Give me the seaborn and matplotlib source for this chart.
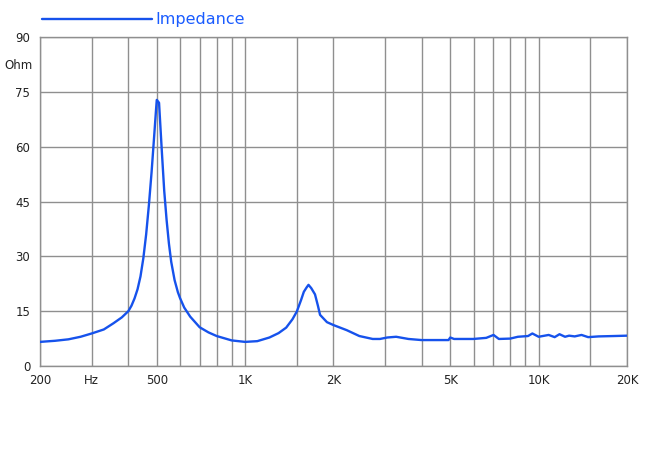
import matplotlib
matplotlib.use("Agg")
import matplotlib.pyplot as plt
import seaborn as sns

freq = [200, 225, 250, 275, 300, 330, 356, 380, 400, 410, 420, 430, 440, 450, 460, 470,
        480, 490, 497, 500, 509, 520, 530, 540, 550, 560, 575, 590, 600, 620, 650,
        700, 750, 800, 900, 1000, 1100, 1210, 1300, 1380, 1450, 1500, 1550, 1585, 1620,
        1644, 1680, 1730, 1770, 1800, 1900, 2000, 2220, 2450, 2720, 2880, 3050, 3270, 3600,
        3990, 4500, 4930, 5000, 5150, 5500, 5990, 6630, 7020, 7320, 8000, 8500, 9200, 9520,
        10000, 10820, 11340, 11780, 12300, 12700, 13270, 14000, 14750, 16000, 18000, 20000]
impedance = [6.6, 6.9, 7.3, 8.0, 8.9, 10.0, 11.7, 13.3, 15.0, 16.5, 18.5, 21.0, 24.5, 29.5, 36.0, 44.0,
             53.0, 63.0, 70.0, 72.8, 72.0, 59.0, 48.0, 40.0, 33.5, 28.5, 23.5, 20.2, 18.6, 16.0, 13.5,
             10.6, 9.2, 8.2, 7.0, 6.6, 6.8, 7.8, 9.0, 10.5, 12.8, 14.9, 18.0, 20.3, 21.5,
             22.2, 21.3, 19.6, 16.5, 14.0, 12.0, 11.2, 9.8, 8.2, 7.4, 7.4, 7.8, 8.0, 7.4,
             7.1, 7.1, 7.1, 7.8, 7.4, 7.4, 7.4, 7.7, 8.5, 7.4, 7.5, 8.0, 8.2, 8.9,
             8.0, 8.5, 7.9, 8.7, 8.0, 8.3, 8.1, 8.5, 7.9, 8.1, 8.2, 8.3]

x_ticks = [200, 300, 500, 1000, 2000, 5000, 10000, 20000]
x_labels = ["200", "Hz", "500", "1K", "2K", "5K", "10K", "20K"]
x_grid = [200, 300, 400, 500, 600, 700, 800, 900, 1000, 1500, 2000, 3000, 4000, 5000,
          6000, 7000, 8000, 9000, 10000, 15000, 20000]
y_ticks = [0, 15, 30, 45, 60, 75, 90]

sns.set_style("white")
plt.rcParams["font.family"] = ["DejaVu Sans"]

blue = "#1652ec"
grid_col = "#8f8f8f"

fig = plt.figure(figsize=(6.5, 4.71), dpi=100)
ax = fig.add_axes([0.0615, 0.2229, 0.9031, 0.6985])

for f in x_grid:
    ax.axvline(f, color=grid_col, lw=1, zorder=1)
for v in y_ticks:
    ax.axhline(v, color=grid_col, lw=1, zorder=1)

sns.lineplot(x=freq, y=impedance, ax=ax, color=blue, lw=1.7, label="Impedance", zorder=3)

ax.set_xscale("log")
ax.set_xlim(200, 20000)
ax.set_ylim(0, 90)
ax.set_xticks(x_ticks)
ax.set_xticklabels(x_labels)
ax.xaxis.set_minor_locator(matplotlib.ticker.NullLocator())
ax.set_yticks(y_ticks)
ax.tick_params(axis="x", length=0, pad=6, labelsize=8.5, colors="#222222")
ax.tick_params(axis="y", length=5, width=1, color=grid_col, pad=2, labelsize=8.5, labelcolor="#222222")
for s in ax.spines.values():
    s.set_color(grid_col)
    s.set_linewidth(1)

ax.text(-0.012, 82.3, "Ohm", transform=ax.get_yaxis_transform(), ha="right", va="center",
        fontsize=8.5, color="#222222")

leg = ax.legend(loc="center left", bbox_to_anchor=(0.064, 0.958), bbox_transform=fig.transFigure,
                frameon=False, handlelength=6.9, handletextpad=0.25, fontsize=11.5,
                borderaxespad=0, borderpad=0)
for t in leg.get_texts():
    t.set_color("#1a5cff")

fig.savefig("out.png", dpi=100)
